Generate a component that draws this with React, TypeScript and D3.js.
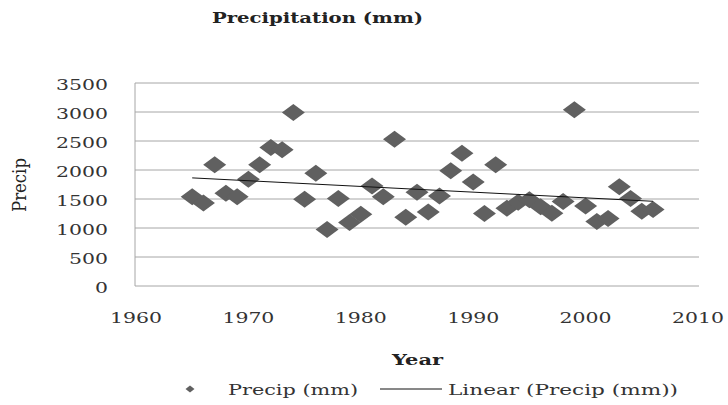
import React from "react";
import * as d3 from "d3";

// Annual precipitation series
const years = [
  1965, 1966, 1967, 1968, 1969, 1970, 1971, 1972, 1973, 1974, 1975, 1976, 1977, 1978,
  1979, 1980, 1981, 1982, 1983, 1984, 1985, 1986, 1987, 1988, 1989, 1990, 1991, 1992,
  1993, 1994, 1995, 1996, 1997, 1998, 1999, 2000, 2001, 2002, 2003, 2004, 2005, 2006,
];
const precip = [
  1540, 1430, 2090, 1600, 1540, 1840, 2090, 2390, 2350, 2990, 1495, 1945, 975, 1510,
  1095, 1235, 1725, 1540, 2530, 1185, 1615, 1275, 1550, 1985, 2290, 1795, 1250, 2090,
  1340, 1445, 1485, 1365, 1255, 1455, 3040, 1380, 1110, 1165, 1710, 1510, 1290, 1320,
];
const yTicks = [0, 500, 1000, 1500, 2000, 2500, 3000, 3500];
const xTicks = [1960, 1970, 1980, 1990, 2000, 2010];

const title = "Precipitation (mm)";
const xTitle = "Year";
const yTitle = "Precip";
const seriesName = "Precip (mm)";
const trendName = "Linear (Precip (mm))";

const W = 728;
const H = 405;
const plot = { left: 135, right: 699, top: 83, bottom: 286 };
const FONT = "'DejaVu Serif', serif";
const DIGIT_W = 13;

export default function App() {
  const x = d3.scaleLinear().domain([1960, 2010]).range([136, 698]);
  const y = d3.scaleLinear().domain([0, 3500]).range([plot.bottom, plot.top]);

  // least-squares trend line
  const mx = d3.mean(years) as number;
  const my = d3.mean(precip) as number;
  let sxy = 0;
  let sxx = 0;
  years.forEach((yr, i) => {
    sxy += (yr - mx) * (precip[i] - my);
    sxx += (yr - mx) * (yr - mx);
  });
  const slope = sxy / sxx;
  const icpt = my - slope * mx;
  const x0 = d3.min(years) as number;
  const x1 = d3.max(years) as number;
  const trend = d3.line<number>()
    .x((d) => x(d))
    .y((d) => y(icpt + slope * d))([x0, x1]);

  const diamond = (cx: number, cy: number, rx: number, ry: number) =>
    `M${cx - rx},${cy}L${cx},${cy - ry}L${cx + rx},${cy}L${cx},${cy + ry}Z`;

  return (
    <svg
      width={W}
      height={H}
      style={{ position: "absolute", left: 0, top: 0, background: "#fff" }}
    >
      <rect width={W} height={H} fill="#fff" />
      {/* title */}
      <text
        x={212}
        y={23}
        fontFamily={FONT}
        fontWeight="bold"
        fontSize={15}
        fill="#222"
        textLength={211}
        lengthAdjust="spacingAndGlyphs"
      >
        {title}
      </text>

      {/* gridlines */}
      {yTicks.map((t) => (
        <line
          key={t}
          x1={plot.left}
          x2={plot.right}
          y1={y(t)}
          y2={y(t)}
          stroke="#a6a6a6"
          strokeWidth={1}
        />
      ))}
      <line
        x1={plot.left}
        x2={plot.left}
        y1={plot.top}
        y2={plot.bottom}
        stroke="#a6a6a6"
        strokeWidth={1}
      />

      {/* y tick labels */}
      {yTicks.map((t) => {
        const s = String(t);
        return (
          <text
            key={t}
            x={108 - s.length * DIGIT_W}
            y={y(t) + 6.5}
            fontFamily={FONT}
            fontSize={15}
            fill="#333"
            textLength={s.length * DIGIT_W}
            lengthAdjust="spacingAndGlyphs"
          >
            {s}
          </text>
        );
      })}

      {/* x tick labels */}
      {xTicks.map((t) => {
        const s = String(t);
        return (
          <text
            key={t}
            x={x(t) - (s.length * DIGIT_W) / 2}
            y={323}
            fontFamily={FONT}
            fontSize={15}
            fill="#333"
            textLength={s.length * DIGIT_W}
            lengthAdjust="spacingAndGlyphs"
          >
            {s}
          </text>
        );
      })}

      {/* axis titles */}
      <text
        x={392}
        y={365}
        fontFamily={FONT}
        fontWeight="bold"
        fontSize={15}
        fill="#222"
        textLength={51}
        lengthAdjust="spacingAndGlyphs"
      >
        {xTitle}
      </text>
      <g transform="translate(26,185) scale(1.25,1) rotate(-90)">
        <text
          x={-27}
          y={0}
          fontFamily={FONT}
          fontSize={15}
          fill="#222"
          textLength={54}
          lengthAdjust="spacingAndGlyphs"
        >
          {yTitle}
        </text>
      </g>

      {/* data points */}
      {years.map((yr, i) => (
        <path
          key={yr}
          d={diamond(x(yr), y(precip[i]), 11.5, 8.5)}
          fill="#606060"
        />
      ))}

      {/* trend line */}
      <path d={trend ?? ""} fill="none" stroke="#111" strokeWidth={1} />

      {/* legend */}
      <path d={diamond(190, 389, 4.5, 3.5)} fill="#606060" />
      <text
        x={228}
        y={395}
        fontFamily={FONT}
        fontSize={15}
        fill="#333"
        textLength={130}
        lengthAdjust="spacingAndGlyphs"
      >
        {seriesName}
      </text>
      <line x1={380} x2={442} y1={389} y2={389} stroke="#111" strokeWidth={1} />
      <text
        x={448}
        y={395}
        fontFamily={FONT}
        fontSize={15}
        fill="#333"
        textLength={230}
        lengthAdjust="spacingAndGlyphs"
      >
        {trendName}
      </text>
    </svg>
  );
}
